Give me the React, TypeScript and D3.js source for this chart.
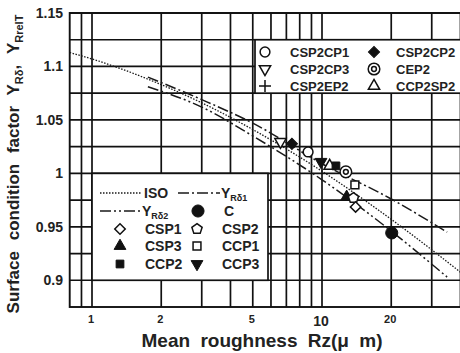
import * as d3 from 'd3'
import { useEffect, useRef } from 'react'

// axis values
const xTickValues = [1, 2, 5, 10, 20]
const xGridValues = [0.9, 1, 2, 3, 4, 5, 6, 7, 8, 9, 10, 20, 30, 40]
const yTickValues = [0.9, 0.95, 1, 1.05, 1.1, 1.15]
const yGridValues = [0.9, 0.925, 0.95, 0.975, 1, 1.025, 1.05, 1.075, 1.1, 1.125, 1.15]

// curves: [Rz, factor]
const isoCurve = [[0.8, 1.113], [1, 1.107], [2, 1.083], [3, 1.066], [5, 1.041], [10, 1.002], [20, 0.957], [42, 0.904]]
const yRd1Curve = [[1.75, 1.09], [3, 1.069], [5, 1.047], [10, 1.009], [20, 0.976], [35, 0.945]]
const yRd2Curve = [[1.75, 1.081], [3, 1.062], [5, 1.035], [10, 0.994], [20, 0.946], [35, 0.903]]

// test results: [Rz, factor]
const csp2cp1 = [[8.7, 1.02]]
const csp2cp2 = [[7.4, 1.0276]]
const csp2cp3 = [[6.6, 1.0295]]
const cep2 = [[12.7, 1.0014]]
const ccp2sp2 = [[10.8, 1.007]]
const cSeries = [[20.1, 0.9443]]
const csp1 = [[14.0, 0.9686]]
const csp2 = [[13.7, 0.977]]
const csp3 = [[12.8, 0.978]]
const ccp1 = [[13.9, 0.9892]]
const ccp2 = [[11.5, 1.007]]
const ccp3 = [[9.9, 1.0108]]

const FONT = 'Liberation Sans, Arial, sans-serif'

function drawMarker(g: any, kind: string, cx: number, cy: number) {
  const k = g.append('g').attr('transform', `translate(${cx},${cy})`)
  const open = { fill: 'white', stroke: '#111', 'stroke-width': 1.5 }
  const solid = { fill: '#111', stroke: '#111', 'stroke-width': 1 }
  const sym = (type: any, size: number, style: any, rot = 0) => {
    const p = k.append('path').attr('d', d3.symbol().type(type).size(size)())
    if (rot) p.attr('transform', `rotate(${rot})`)
    Object.entries(style).forEach(([a, v]) => p.attr(a, v as any))
  }
  if (kind === 'circle') sym(d3.symbolCircle, 75, open)
  if (kind === 'dot') sym(d3.symbolCircle, 115, solid)
  if (kind === 'diamondSolid') sym(d3.symbolSquare, 62, solid, 45)
  if (kind === 'diamond') sym(d3.symbolSquare, 55, open, 45)
  if (kind === 'triDown') sym(d3.symbolTriangle, 55, open, 180)
  if (kind === 'triDownSolid') sym(d3.symbolTriangle, 60, solid, 180)
  if (kind === 'tri') sym(d3.symbolTriangle, 55, open)
  if (kind === 'triSolid') sym(d3.symbolTriangle, 60, solid)
  if (kind === 'square') sym(d3.symbolSquare, 62, open)
  if (kind === 'squareSolid') sym(d3.symbolSquare, 60, solid)
  if (kind === 'pentagon') {
    const pts = d3.range(5).map(i => {
      const a = -Math.PI / 2 + i * 2 * Math.PI / 5
      return [5.4 * Math.cos(a), 5.4 * Math.sin(a)]
    })
    const p = k.append('path').attr('d', 'M' + pts.join('L') + 'Z')
    Object.entries(open).forEach(([a, v]) => p.attr(a, v as any))
  }
  if (kind === 'ring') {
    k.append('circle').attr('r', 5.8).attr('fill', 'white').attr('stroke', '#111').attr('stroke-width', 1.5)
    k.append('circle').attr('r', 2.4).attr('fill', 'none').attr('stroke', '#111').attr('stroke-width', 1.5)
  }
  if (kind === 'plus') {
    k.append('path').attr('d', 'M-6,0H6M0,-6V6').attr('stroke', '#111').attr('stroke-width', 1.5)
  }
}

function App() {
  const ref = useRef<SVGSVGElement>(null)

  useEffect(() => {
    const svg = d3.select(ref.current)
    svg.selectAll('*').remove()

    const x = d3.scaleLog().domain([1, 10]).range([92, 322])
    const y = d3.scaleLinear().domain([0.875, 1.15]).range([307, 13])
    const left = x(0.8), right = 463, top = y(1.15), bottom = y(0.875)

    svg.append('rect').attr('width', 460).attr('height', 353).attr('fill', 'white')

    // grid
    const grid = svg.append('g').attr('stroke', '#111').attr('stroke-width', 1.7)
    grid.selectAll('.h').data(yGridValues).enter().append('line')
      .attr('x1', left).attr('x2', right).attr('y1', d => y(d)).attr('y2', d => y(d))
    grid.selectAll('.v').data(xGridValues).enter().append('line')
      .attr('x1', d => x(d)).attr('x2', d => x(d)).attr('y1', top).attr('y2', bottom)
    svg.append('rect').attr('x', left).attr('y', top).attr('width', right - left).attr('height', bottom - top)
      .attr('fill', 'none').attr('stroke', '#111').attr('stroke-width', 1.9)

    // tick labels
    svg.selectAll('.yt').data(yTickValues).enter().append('text')
      .attr('x', 63).attr('y', d => y(d)).attr('dy', '0.36em').attr('text-anchor', 'end')
      .attr('font-family', FONT).attr('font-weight', 'bold').attr('font-size', 14).attr('fill', '#222')
      .text(d => d3.format('')(d))
    svg.selectAll('.xt').data(xTickValues).enter().append('text')
      .attr('x', d => x(d) - 1).attr('y', d => (d === 10 ? 326 : 323)).attr('text-anchor', 'middle')
      .attr('font-family', FONT).attr('font-weight', 'bold').attr('font-size', d => (d === 10 ? 14 : 11)).attr('fill', '#222')
      .text(d => String(d))

    // axis titles
    svg.append('text').attr('x', 262).attr('y', 347).attr('text-anchor', 'middle')
      .attr('font-family', FONT).attr('font-weight', 'bold').attr('font-size', 19).attr('word-spacing', 5).attr('fill', '#222')
      .text('Mean roughness Rz(μ m)')
    const yl = svg.append('text').attr('transform', 'translate(19,164) rotate(-90)').attr('text-anchor', 'middle')
      .attr('font-family', FONT).attr('font-weight', 'bold').attr('font-size', 17).attr('word-spacing', 6).attr('fill', '#222')
    yl.append('tspan').text('Surface condition factor Y')
    yl.append('tspan').attr('font-size', 11).attr('dy', 4).text('Rδ')
    yl.append('tspan').attr('dy', -4).text(', Y')
    yl.append('tspan').attr('font-size', 11).attr('dy', 4).text('RrelT')

    // curves
    const line = d3.line<number[]>().x(d => x(d[0])).y(d => y(d[1])).curve(d3.curveMonotoneX)
    const curveStyles: [number[][], string, number][] = [
      [isoCurve, '1.5,1.5', 1.3],
      [yRd1Curve, '11,3,2,3', 1.5],
      [yRd2Curve, '11,3,2,3,2,3', 1.5],
    ]
    curveStyles.forEach(([data, dash, w]) => {
      svg.append('path').attr('d', line(data as any) as string).attr('fill', 'none')
        .attr('stroke', '#1a1a1a').attr('stroke-width', w).attr('stroke-dasharray', dash)
    })

    // points
    const pts = svg.append('g')
    const seriesMarkers: [number[][], string][] = [
      [csp2cp3, 'triDown'], [csp2cp2, 'diamondSolid'], [csp2cp1, 'circle'],
      [ccp3, 'triDownSolid'], [ccp2sp2, 'tri'], [ccp2, 'squareSolid'], [cep2, 'ring'],
      [ccp1, 'square'], [csp3, 'triSolid'], [csp2, 'pentagon'], [csp1, 'diamond'], [cSeries, 'dot'],
    ]
    seriesMarkers.forEach(([data, kind]) => data.forEach(d => drawMarker(pts, kind, x(d[0]), y(d[1]))))

    // upper legend
    const lg1 = svg.append('g')
    lg1.append('rect').attr('x', 255).attr('y', y(1.125)).attr('width', 215).attr('height', y(1.075) - y(1.125))
      .attr('fill', 'white').attr('stroke', '#111').attr('stroke-width', 1.7)
    const leg1: [string, string, number, number][] = [
      ['circle', 'CSP2CP1', 265, 52], ['diamondSolid', 'CSP2CP2', 374, 52],
      ['triDown', 'CSP2CP3', 265, 69], ['ring', 'CEP2', 374, 69],
      ['plus', 'CSP2EP2', 265, 86], ['tri', 'CCP2SP2', 374, 86],
    ]
    leg1.forEach(([kind, label, lx, ly]) => {
      drawMarker(lg1, kind, lx, ly)
      lg1.append('text').attr('x', lx + (lx > 300 ? 22 : 25)).attr('y', ly).attr('dy', '0.36em')
        .attr('font-family', FONT).attr('font-weight', 'bold').attr('font-size', 13).attr('fill', '#222').text(label)
    })

    // lower legend
    const lg2 = svg.append('g')
    lg2.append('rect').attr('x', 92).attr('y', y(1.0)).attr('width', 176).attr('height', y(0.9) - y(1.0))
      .attr('fill', 'white').attr('stroke', '#111').attr('stroke-width', 1.7)
    const legLine = (x1: number, yy: number, dash: string, w: number) =>
      lg2.append('line').attr('x1', x1).attr('x2', x1 + 42).attr('y1', yy).attr('y2', yy)
        .attr('stroke', '#1a1a1a').attr('stroke-width', w).attr('stroke-dasharray', dash)
    const legText = (tx: number, ty: number, label: string, sub?: string) => {
      const t = lg2.append('text').attr('x', tx).attr('y', ty).attr('dy', '0.36em')
        .attr('font-family', FONT).attr('font-weight', 'bold').attr('font-size', 14).attr('fill', '#222')
      t.append('tspan').text(label)
      if (sub) t.append('tspan').attr('font-size', 9).attr('dy', 3).text(sub)
    }
    legLine(100, 193, '1.5,1.5', 1.3); legText(144, 193, 'ISO')
    legLine(178, 193, '11,3,2,3', 1.5); legText(221, 193, 'Y', 'Rδ1')
    legLine(100, 211, '11,3,2,3,2,3', 1.5); legText(142, 211, 'Y', 'Rδ2')
    drawMarker(lg2, 'dot', 198, 211); legText(224, 211, 'C')
    const leg2: [string, string, number, number][] = [
      ['diamond', 'CSP1', 120, 229], ['pentagon', 'CSP2', 197, 229],
      ['triSolid', 'CSP3', 120, 246], ['square', 'CCP1', 197, 246],
      ['squareSolid', 'CCP2', 120, 264], ['triDownSolid', 'CCP3', 197, 264],
    ]
    leg2.forEach(([kind, label, lx, ly]) => {
      drawMarker(lg2, kind, lx, ly)
      legText(lx + 25, ly, label)
    })
  }, [])

  return (
    <svg ref={ref} width={460} height={353} style={{ position: 'absolute', left: 0, top: 0 }} />
  )
}

export default App
